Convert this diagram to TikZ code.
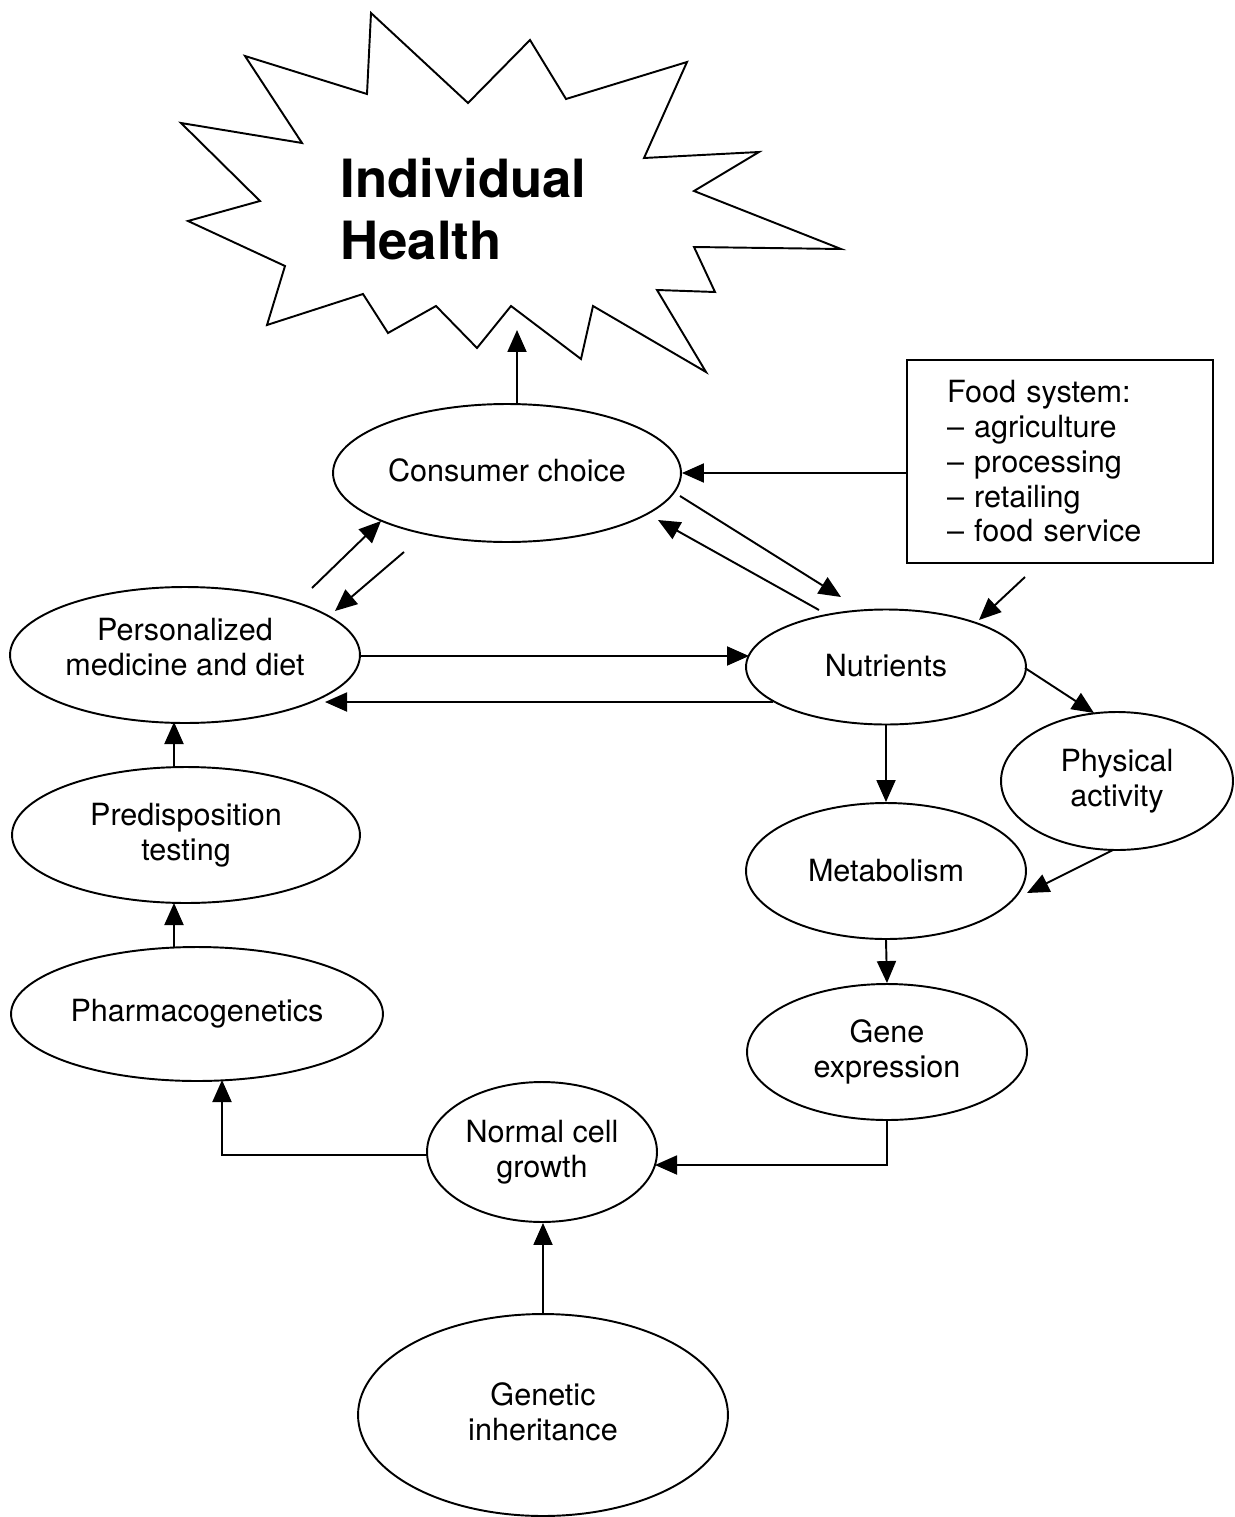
\documentclass[tikz,border=0pt]{standalone}
\usepackage{fontspec}
\setmainfont{TeX Gyre Heros}
\usetikzlibrary{shapes.geometric,arrows.meta,calc}
\begin{document}
\begin{tikzpicture}[x=0.02cm,y=-0.02cm,
  every node/.style={font=\fontsize{17.4pt}{19.8pt}\selectfont},
  ell/.style={draw,ellipse,line width=1.1pt,inner sep=0pt,align=center},
  arr/.style={line width=1.1pt,-{Triangle[length=0.44cm,width=0.38cm]}},
  ln/.style={line width=1.1pt}]
\useasboundingbox (0,0) rectangle (1234,1517);
% starburst
\draw[ln,line join=miter] (371,13) -- (468,103) -- (530,40) -- (566,99) -- (687,62) -- (644,158)
 -- (759,152) -- (694,191) -- (841,249) -- (694,247) -- (715,292) -- (657,290)
 -- (706,372) -- (593,306) -- (581,359) -- (511,306) -- (477,348) -- (436,306)
 -- (388,333) -- (363,294) -- (267,325) -- (285,266) -- (188,221) -- (260,201)
 -- (181,123) -- (302,143) -- (245,56) -- (367,94) -- cycle;
\node[anchor=north west,inner sep=0pt,align=left,font=\fontsize{30pt}{35.5pt}\selectfont\bfseries] (ih) at (340,158) {Individual\\Health};
\coordinate (starb) at (517,330);
% nodes
\node[ell,minimum width=6.96cm,minimum height=2.76cm] (cc) at (507,473) {\raisebox{3pt}{Consumer choice}};
\node[draw,rectangle,line width=1.1pt,minimum width=6.12cm,minimum height=4.06cm,inner xsep=0.8cm,inner ysep=0pt,text width=4.52cm,align=left] (fs) at (1060,461.5) {Food system:\\\textendash{} agriculture\\\textendash{} processing\\\textendash{} retailing\\\textendash{} food service};
\node[ell,minimum width=7.0cm,minimum height=2.72cm,text depth=9pt] (pm) at (185,655) {Personalized\\medicine and diet};
\node[ell,minimum width=5.6cm,minimum height=2.3cm] (nu) at (886,667) {\raisebox{2pt}{Nutrients}};
\node[ell,minimum width=4.64cm,minimum height=2.76cm] (pa) at (1117,781) {Physical\\activity};
\node[ell,minimum width=5.6cm,minimum height=2.72cm] (me) at (886,871) {Metabolism};
\node[ell,minimum width=6.96cm,minimum height=2.72cm] (pt) at (186,835) {\raisebox{-3pt}{Predisposition}\\\raisebox{-3pt}{testing}};
\node[ell,minimum width=7.44cm,minimum height=2.68cm] (ph) at (197,1014) {\raisebox{2pt}{Pharmacogenetics}};
\node[ell,minimum width=5.6cm,minimum height=2.72cm] (ge) at (887,1052) {Gene\\expression};
\node[ell,minimum width=4.6cm,minimum height=2.8cm] (nc) at (542,1152) {Normal cell\\growth};
\node[ell,minimum width=7.4cm,minimum height=4.04cm] (gi) at (543,1415) {\raisebox{4pt}{Genetic}\\\raisebox{4pt}{inheritance}};
% connectors
\draw[arr] ($(cc.center)+(10,-69)$) -- (starb);
\draw[arr] (fs.west |- cc.east) -- (cc.east);
\draw[arr] ($(fs.center)+(-35,115.5)$) -- ($(nu.center)+(93,-47)$);
\draw[arr] ($(cc.center)+(173,23)$) -- ($(nu.center)+(-45,-70)$);
\draw[arr] ($(nu.center)+(-67,-57)$) -- ($(cc.center)+(151,47)$);
\draw[arr] ($(pm.center)+(127,-67)$) -- ($(cc.center)+(-126,48)$);
\draw[arr] ($(cc.center)+(-103,79)$) -- ($(pm.center)+(150,-44)$);
\draw[arr] ($(pm.center)+(175,1)$) -- ($(nu.center)+(-137,-11)$);
\draw[arr] ($(nu.center)+(-113,35)$) -- ($(pm.center)+(140,47)$);
\draw[arr] ($(nu.center)+(139,1)$) -- ($(pa.center)+(-23,-68)$);
\draw[arr] (nu.south) -- (me.north);
\draw[arr] ($(pa.center)+(-4,69)$) -- ($(me.center)+(141,22)$);
\draw[arr] (me.south) -- (ge.north);
\draw[arr] (ge.south) |- ($(nc.center)+(113,13)$);
\draw[arr] ($(nc.center)+(-114,3)$) -| ($(ph.center)+(25,66)$);
\draw[arr] ($(ph.center)+(-23,-67)$) -- ($(pt.center)+(-12,68)$);
\draw[arr] ($(pt.center)+(-12,-68)$) -- ($(pm.center)+(-11,67)$);
\draw[arr] (gi.north) -- (gi.north |- nc.south);
\end{tikzpicture}
\end{document}
